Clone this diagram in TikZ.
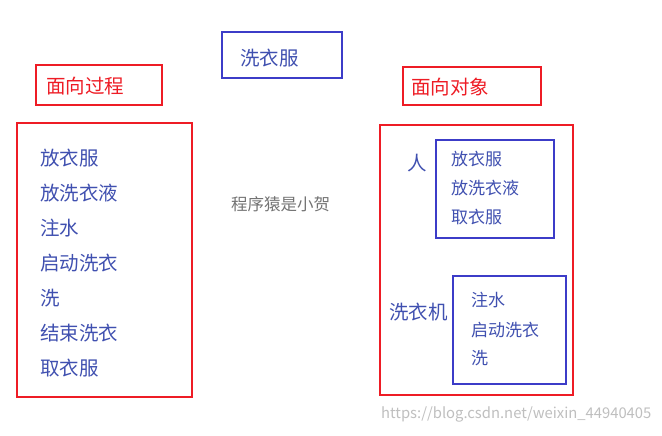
\documentclass[tikz,border=0pt]{standalone}
\usepackage{fontspec}
\setmainfont{Noto Sans CJK SC}
\definecolor{rd}{HTML}{EE1C25}
\definecolor{bl}{HTML}{3C3CC8}
\definecolor{tx}{HTML}{4050B0}
\begin{document}
\begin{tikzpicture}[x=1pt,y=-1pt,
 rbox/.style={draw=rd,line width=2.2pt},
 bbox/.style={draw=bl,line width=2.2pt},
 big/.style={font=\fontsize{19.5}{21}\selectfont,text=tx,anchor=west,inner sep=0},
 sml/.style={font=\fontsize{17}{19}\selectfont,text=tx,anchor=west,inner sep=0}]
\useasboundingbox[fill=white] (0,0) rectangle (662,436);
\draw[bbox] (222,32) rectangle (342,78);
\node[big] (t0) at (240,58) {洗衣服};
\draw[rbox] (36,65) rectangle (162,105);
\node[big,text=rd] (t1) at (46,86) {面向过程};
\draw[rbox] (403,67) rectangle (541,105);
\node[big,text=rd] (t2) at (411,87) {面向对象};
\draw[rbox] (17,123) rectangle (192,397);
\foreach \t/\y [count=\i] in {放衣服/158,放洗衣液/193,注水/228,启动洗衣/263,洗/298,结束洗衣/333,取衣服/368}
  \node[big] (l\i) at (40,\y) {\t};
\node[font=\fontsize{16.5}{18}\selectfont,text=gray!90!black,anchor=west,inner sep=0] (w) at (231,204) {程序猿是小贺};
\draw[rbox] (380,125) rectangle (573,395);
\node[big] (p) at (407,163) {人};
\draw[bbox] (436,140) rectangle (554,238);
\foreach \t/\y [count=\i] in {放衣服/159,放洗衣液/188,取衣服/217}
  \node[sml] (a\i) at (451,\y) {\t};
\node[big] (m) at (389,312) {洗衣机};
\draw[bbox] (453,276) rectangle (566,384);
\foreach \t/\y [count=\i] in {注水/300,启动洗衣/330,洗/358}
  \node[sml] (b\i) at (471,\y) {\t};
\node[font=\fontsize{14.8}{16}\selectfont,text=gray!50,anchor=west,inner sep=0] (u) at (381,414) {https://blog.csdn.net/weixin\_44940405};
\end{tikzpicture}
\end{document}
